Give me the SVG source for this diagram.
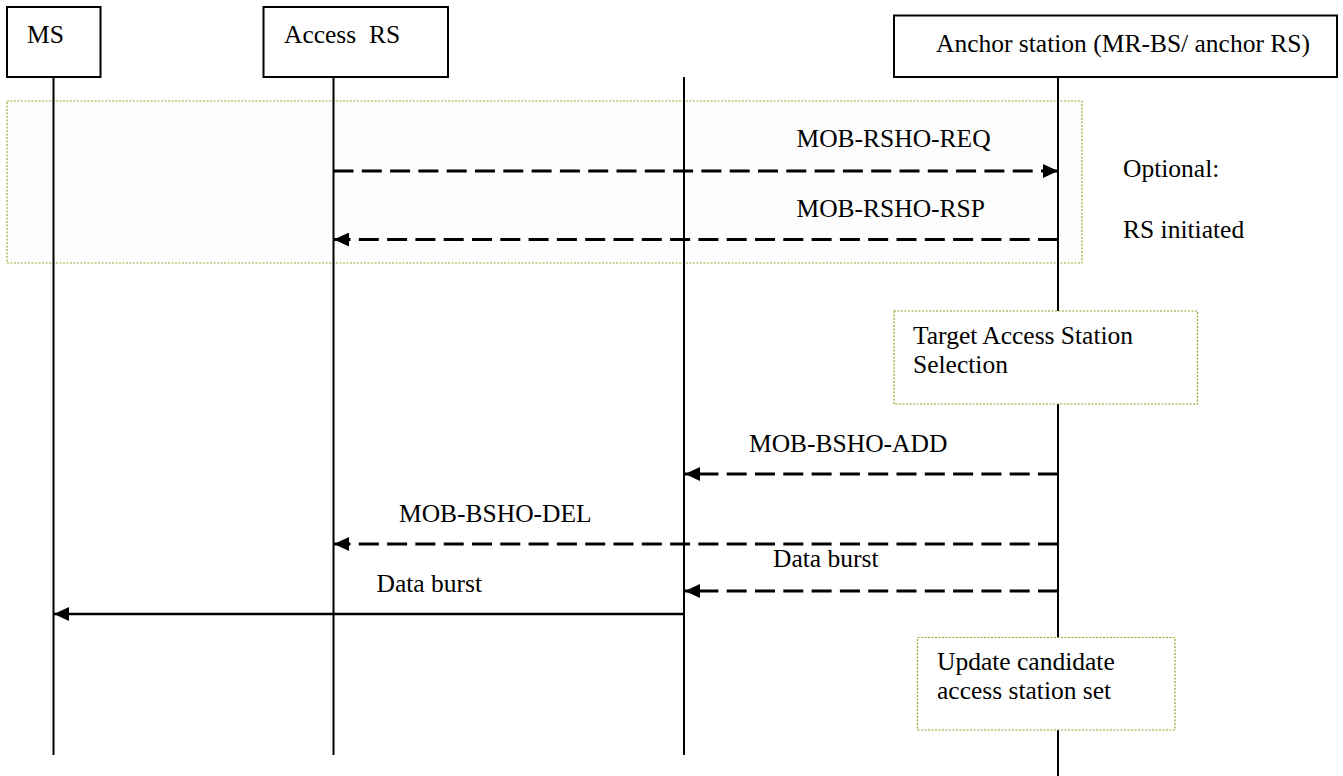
<svg xmlns="http://www.w3.org/2000/svg" width="1343" height="776" viewBox="0 0 1343 776">
<defs>
<style>
text{font-family:"Liberation Serif","Times New Roman",serif;font-size:25.5px;fill:#000}
.box{fill:#fff;stroke:#000;stroke-width:2}
.life{stroke:#000;stroke-width:2;fill:none}
.note{fill:#fff;stroke:#9d9d2a;stroke-width:1.2;stroke-dasharray:2 1.5}
.dash{stroke:#000;stroke-width:3;stroke-dasharray:20 8.3;fill:none}
.solid{stroke:#000;stroke-width:2.5;fill:none}
</style>
<marker id="ah" markerWidth="15" markerHeight="14" refX="15" refY="7" orient="auto" markerUnits="userSpaceOnUse"><path d="M0,0 L15,7 L0,14 Z" fill="#000"/></marker>
</defs>
<rect width="1343" height="776" fill="#fff"/>
<g id="optional-region">
<rect x="7" y="101" width="1075" height="162" fill="#fdfdfd" stroke="#a3a33a" stroke-width="1.2" stroke-dasharray="2 1.5"/>
<text x="1123" y="177">Optional:</text>
<text x="1123" y="238">RS initiated</text>
</g>
<g id="lifelines">
<line class="life" x1="53.5" y1="77" x2="53.5" y2="755"/>
<line class="life" x1="333.5" y1="77" x2="333.5" y2="755"/>
<line class="life" x1="684" y1="77" x2="684" y2="755"/>
<line class="life" x1="1058" y1="77" x2="1058" y2="776"/>
</g>
<g id="ms">
<rect class="box" x="7" y="7" width="93.5" height="70"/>
<text x="27" y="42.5">MS</text>
</g>
<g id="access-rs">
<rect class="box" x="263.5" y="7" width="184.5" height="70"/>
<text x="284" y="42.5" xml:space="preserve">Access  RS</text>
</g>
<g id="anchor-station">
<rect class="box" x="894" y="15.5" width="443" height="61.5"/>
<text x="936" y="52">Anchor station (MR-BS/ anchor RS)</text>
</g>
<g id="target-selection">
<rect class="note" x="894" y="311" width="303.5" height="93"/>
<text x="913" y="344">Target Access Station</text>
<text x="913" y="373">Selection</text>
</g>
<g id="update-set">
<rect class="note" x="917.5" y="637.5" width="257.5" height="92.5"/>
<text x="937" y="670">Update candidate</text>
<text x="937" y="699">access station set</text>
</g>
<g id="connectors">
<line class="dash" x1="333.5" y1="171" x2="1058" y2="171" marker-end="url(#ah)"/>
<text x="796.5" y="147">MOB-RSHO-REQ</text>
<line class="dash" x1="1058" y1="239.5" x2="334" y2="239.5" marker-end="url(#ah)"/>
<text x="796.5" y="217">MOB-RSHO-RSP</text>
<line class="dash" x1="1058" y1="474" x2="685" y2="474" marker-end="url(#ah)"/>
<text x="749" y="452">MOB-BSHO-ADD</text>
<line class="dash" x1="1058" y1="544" x2="334" y2="544" marker-end="url(#ah)"/>
<text x="399" y="522">MOB-BSHO-DEL</text>
<line class="dash" x1="1058" y1="591" x2="685" y2="591" marker-end="url(#ah)"/>
<text x="773" y="567">Data burst</text>
<line class="solid" x1="684" y1="614" x2="54" y2="614" marker-end="url(#ah)"/>
<text x="376.5" y="591.5">Data burst</text>
</g>
</svg>
